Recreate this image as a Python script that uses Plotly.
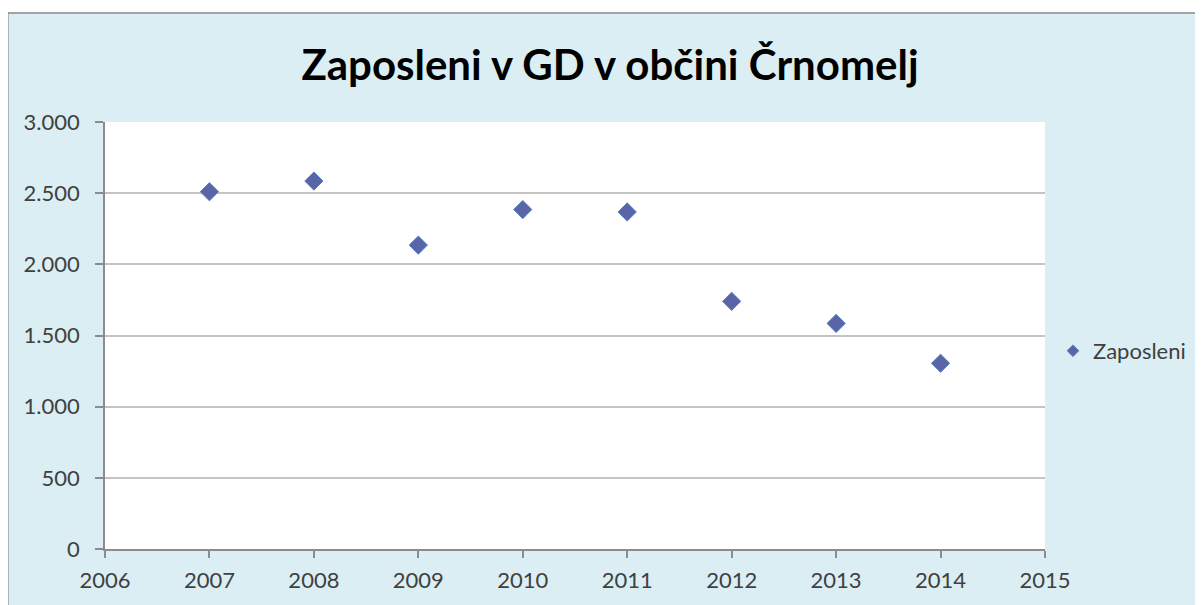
import plotly.graph_objects as go

# ---- data ----
years = [2007, 2008, 2009, 2010, 2011, 2012, 2013, 2014]
zaposleni = [2510, 2585, 2135, 2385, 2368, 1740, 1585, 1305]
series_name = "Zaposleni"
title_text = "Zaposleni v GD v občini Črnomelj"
x_range = [2006, 2015]
y_range = [0, 3000]

# ---- layout geometry ----
# the page body adds an 8px offset; screen pixel = figure pixel + OFF
OFF = 8
SW, SH = 1203, 605
W, H = SW - OFF, SH - OFF
# plot area in screen pixels
S_L, S_R, S_T, S_B = 105, 1048, 122, 551
L = S_L - OFF
T = S_T - OFF
R = W - (S_R - OFF)
B = H - (S_B - OFF)
pw, ph = W - L - R, H - T - B


def px(sx):
    return (sx - S_L) / pw


def py(sy):
    return (S_B - sy) / ph


BG = "#DBEEF4"
FONT = "Lato, 'Open Sans', sans-serif"
TXT = "#404040"

fig = go.Figure()
fig.add_trace(go.Scatter(
    x=years, y=zaposleni, mode="markers", name=series_name, showlegend=False,
    marker=dict(symbol="diamond", size=14, color="#5A64A8",
                line=dict(color="#4F7FC0", width=1)),
))
# legend entry
fig.add_trace(go.Scatter(
    x=[None], y=[None], mode="markers", name=series_name, showlegend=True,
    marker=dict(symbol="diamond", size=9, color="#5A64A8",
                line=dict(color="#4F7FC0", width=1)),
))

fig.update_layout(
    width=W, height=H,
    margin=dict(l=L, r=R, t=T, b=B, pad=0),
    paper_bgcolor=BG, plot_bgcolor="white",
    separators=",.",
    font=dict(family=FONT, color=TXT, size=22),
    title=dict(text=title_text, xref="container", x=(610 - OFF) / W, xanchor="center",
               yref="container", y=1 - (65 - OFF) / H, yanchor="middle",
               font=dict(family=FONT, size=42, color="#000000", weight="bold")),
    legend=dict(x=px(1056), xanchor="left", y=py(352), yanchor="middle",
                bgcolor="rgba(0,0,0,0)", font=dict(size=22, color=TXT),
                itemsizing="trace"),
    xaxis=dict(range=x_range, dtick=1, tickformat="d", showgrid=False,
               showline=True, linecolor="#8C8C8C", linewidth=1.5,
               ticks="outside", ticklen=7, tickcolor="#8C8C8C", tickwidth=1.5,
               ticklabelstandoff=4,
               tickfont=dict(size=22, color=TXT), zeroline=False, fixedrange=True),
    yaxis=dict(range=y_range, dtick=500, tickformat=",", showgrid=True,
               gridcolor="#C4C4C4", gridwidth=2,
               showline=True, linecolor="#8C8C8C", linewidth=1.5,
               ticks="outside", ticklen=8, tickcolor="#8C8C8C", tickwidth=1.5,
               ticklabelstandoff=11,
               tickfont=dict(size=22, color=TXT), zeroline=False, fixedrange=True),
    shapes=[
        # white margin strips outside the chart frame
        dict(type="rect", xref="paper", yref="paper", x0=px(-20), x1=px(SW + 20),
             y0=py(12), y1=py(-20), fillcolor="white", line=dict(width=0), layer="above"),
        dict(type="rect", xref="paper", yref="paper", x0=px(-20), x1=px(7),
             y0=py(SH + 20), y1=py(-20), fillcolor="white", line=dict(width=0), layer="above"),
        # frame border
        dict(type="line", xref="paper", yref="paper", x0=px(7.5), x1=px(SW + 20),
             y0=py(12.5), y1=py(12.5), line=dict(color="#8A8A8A", width=1.5), layer="above"),
        dict(type="line", xref="paper", yref="paper", x0=px(7.5), x1=px(7.5),
             y0=py(12.5), y1=py(SH + 20), line=dict(color="#8A8A8A", width=1.5), layer="above"),
    ],
)

fig.write_html("out.html")
